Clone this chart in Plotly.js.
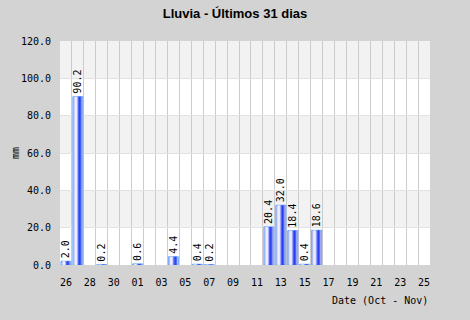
<!DOCTYPE html>
<html>
<head>
<meta charset="utf-8">
<script src="https://cdn.plot.ly/plotly-3.0.1.min.js"></script>
<style>html,body{margin:0;padding:0;background:#d3d3d3;}#chart{width:470px;height:320px;}</style>
</head>
<body>
<div id="chart"></div>
<script>
// Oct 26 .. Nov 25
const days = ['26','27','28','29','30','31','01','02','03','04','05','06','07','08','09','10',
              '11','12','13','14','15','16','17','18','19','20','21','22','23','24','25'];
const rainMm = [2.0, 90.2, 0, 0.2, 0, 0, 0.6, 0, 0, 4.4, 0, 0.4, 0.2, 0, 0, 0,
                0, 20.4, 32.0, 18.4, 0.4, 18.6, 0, 0, 0, 0, 0, 0, 0, 0, 0];
const yTicks = [0, 20, 40, 60, 80, 100, 120];
const titleText = 'Lluvia - Últimos 31 dias';
const xTitle = 'Date (Oct - Nov)';
const yTitle = 'mm';

const xs = days.map((d, i) => i);
const ys = rainMm.map(v => v > 0 ? v : null);
const labels = rainMm.map(v => v > 0 ? v.toFixed(1) : '');
const tickIdx = xs.filter(i => i % 2 === 0);
const tickTxt = tickIdx.map(i => days[i]);
const mono = 'DejaVu Sans Mono';

const base = {
  type: 'bar', x: xs, y: ys, width: 0.84,
  marker: {color: '#b4bcf6', line: {color: '#6ea8f8', width: 1}},
  text: labels, textposition: 'outside', textangle: -90, constraintext: 'none',
  cliponaxis: false, textfont: {family: mono, size: 10, color: '#000'},
  hoverinfo: 'skip'
};
const whiteStripe = {
  type: 'bar', x: xs, y: ys, width: 0.2, offset: -0.28,
  marker: {color: '#eeeeff', line: {width: 0}}, hoverinfo: 'skip'
};
const blueStripe = {
  type: 'bar', x: xs, y: ys, width: 0.3, offset: 0.0,
  marker: {color: '#4d68f6', line: {width: 0}}, hoverinfo: 'skip'
};
const darkStripe = {
  type: 'bar', x: xs, y: ys, width: 0.1, offset: 0.1,
  marker: {color: '#2a3ef0', line: {width: 0}}, hoverinfo: 'skip'
};

const bands = [];
for (let k = 0; k < yTicks.length - 1; k++) {
  if (k % 2 === 1) {
    bands.push({type: 'rect', xref: 'paper', yref: 'y', x0: 0, x1: 1,
      y0: yTicks[k], y1: yTicks[k + 1], fillcolor: '#f2f2f2', line: {width: 0}, layer: 'below'});
  }
}

const layout = {
  width: 470, height: 320,
  paper_bgcolor: '#d3d3d3', plot_bgcolor: '#ffffff',
  margin: {l: 60, r: 40, t: 41, b: 55},
  barmode: 'overlay', showlegend: false,
  title: {text: '<b>' + titleText + '</b>', font: {family: 'Liberation Sans', size: 13, color: '#000'},
          x: 0.5, xanchor: 'center', y: 1 - 13 / 320, yanchor: 'middle'},
  xaxis: {range: [-0.5, 30.5], tickvals: tickIdx, ticktext: tickTxt, showgrid: false,
          zeroline: false, showline: false, ticks: '', ticklabelstandoff: 10,
          tickfont: {family: mono, size: 10, color: '#000'},
          minor: {tick0: -0.5, dtick: 1, showgrid: true, gridcolor: '#cccccc', gridwidth: 1, ticks: ''}},
  yaxis: {range: [0, 120], tickvals: yTicks, tickformat: '.1f', showgrid: true, gridcolor: '#e2e2e2',
          zeroline: false, showline: false, ticks: '', ticklabelstandoff: 8,
          tickfont: {family: mono, size: 10, color: '#000'}},
  shapes: bands,
  annotations: [
    {text: xTitle, xref: 'paper', yref: 'paper', x: 1, y: -35 / 224, xanchor: 'right', yanchor: 'middle',
     showarrow: false, font: {family: mono, size: 10, color: '#000'}},
    {text: yTitle, xref: 'paper', yref: 'paper', x: -45 / 370, y: 0.5, xanchor: 'center', yanchor: 'middle',
     textangle: -90, showarrow: false, font: {family: mono, size: 10, color: '#000'}}
  ]
};

Plotly.newPlot('chart', [base, whiteStripe, blueStripe, darkStripe], layout, {displayModeBar: false, staticPlot: true});
</script>
</body>
</html>
